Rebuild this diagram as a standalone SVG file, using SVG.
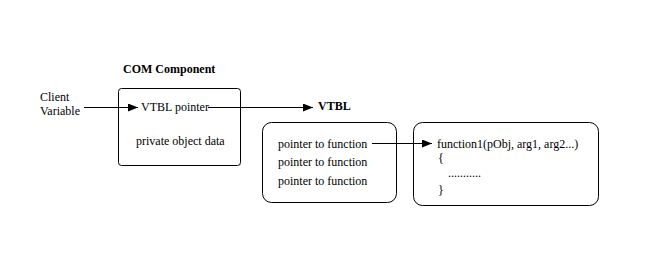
<svg xmlns="http://www.w3.org/2000/svg" width="667" height="259" viewBox="0 0 667 259">
<defs>
<marker id="arr" viewBox="0 0 10 8" refX="10" refY="4" markerWidth="10" markerHeight="8" markerUnits="userSpaceOnUse" orient="auto">
<path d="M0,0 L10,4 L0,8 Z" fill="#000"/>
</marker>
<style>
text{font-family:"Liberation Serif","Times New Roman",serif;font-size:12px;fill:#000}
.b{font-weight:bold}
.box{fill:#fff;stroke:#000;stroke-width:1}
.ln{stroke:#000;stroke-width:1;fill:none}
</style>
</defs>
<rect width="667" height="259" fill="#fff"/>
<g id="client">
<text x="40" y="101">Client</text>
<text x="40" y="115">Variable</text>
</g>
<g id="com">
<text class="b" x="123" y="73">COM Component</text>
<rect class="box" x="118.5" y="88.5" width="122" height="77" rx="3"/>
<text x="141" y="111">VTBL pointer</text>
<text x="136" y="145">private object data</text>
</g>
<g id="vtbl">
<text class="b" x="318" y="110">VTBL</text>
<rect class="box" x="262.5" y="122.5" width="134" height="80" rx="9"/>
<text x="278" y="148">pointer to function</text>
<text x="278" y="166">pointer to function</text>
<text x="278" y="185">pointer to function</text>
</g>
<g id="func">
<rect class="box" x="413.5" y="122.5" width="185" height="83" rx="9"/>
<text x="437" y="148">function1(pObj, arg1, arg2...)</text>
<text x="438" y="162">{</text>
<text x="448" y="177">...........</text>
<text x="438" y="194">}</text>
</g>
<g id="connectors">
<line class="ln" x1="84" y1="107.5" x2="138" y2="107.5" marker-end="url(#arr)"/>
<line class="ln" x1="208" y1="107.5" x2="313" y2="107.5" marker-end="url(#arr)"/>
<line class="ln" x1="372" y1="143.5" x2="432" y2="143.5" marker-end="url(#arr)"/>
</g>
</svg>
